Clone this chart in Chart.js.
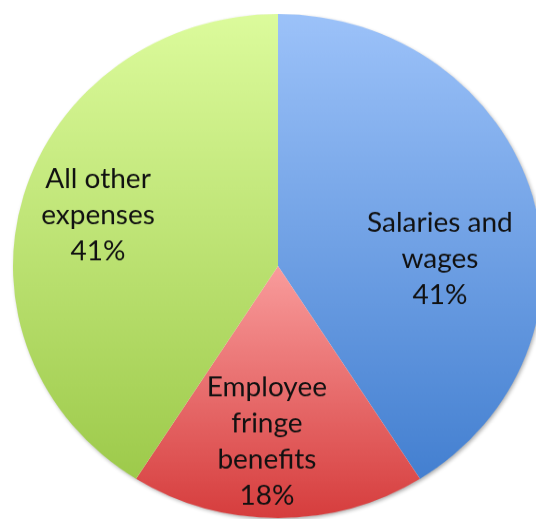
<!DOCTYPE html>
<html>
<head>
<meta charset="utf-8">
<script src="https://cdn.jsdelivr.net/npm/chart.js@4"></script>
<style>
  html, body { margin: 0; padding: 0; background: #fff; overflow: hidden; }
  #wrap { width: 536px; height: 519px; position: relative; overflow: hidden; }
  #pie { position: absolute; left: 0; top: 0; transform-origin: 0 0; transform: translateY(14px) scaleY(0.951); }
</style>
</head>
<body>
<div id="wrap"><canvas id="pie" width="560" height="560"></canvas></div>
<script>
var categories = ["Salaries and wages", "Employee fringe benefits", "All other expenses"];
var labelLines = [["Salaries and", "wages"], ["Employee", "fringe", "benefits"], ["All other", "expenses"]];
var shares = [41, 18, 41];

// gradient stops per slice: [top colour, bottom colour, start at centre?]
var sliceColors = [
    ["#9cc2f9", "#3c7acd", false],
    ["#f99c9c", "#d63d3d", true],
    ["#dcfb9c", "#98c644", false]
];
// label centre as fraction of radius from pie centre
var labelPos = [[0.611, -0.028], [-0.042, 0.698], [-0.679, -0.202]];

function sliceFill(ctx) {
    var chart = ctx.chart, area = chart.chartArea;
    if (!area) return sliceColors[ctx.dataIndex][0];
    var c = sliceColors[ctx.dataIndex];
    var midY = (area.top + area.bottom) / 2;
    var g = chart.ctx.createLinearGradient(0, c[2] ? midY : area.top, 0, area.bottom);
    g.addColorStop(0, c[0]);
    g.addColorStop(1, c[1]);
    return g;
}

var pieShadow = {
    id: 'pieShadow',
    beforeDatasetsDraw: function (chart) {
        var arc = chart.getDatasetMeta(0).data[0];
        if (!arc) return;
        var ctx = chart.ctx;
        ctx.save();
        ctx.shadowColor = 'rgba(0,0,0,0.35)';
        ctx.shadowBlur = 4;
        ctx.shadowOffsetX = 1.5;
        ctx.shadowOffsetY = 2;
        ctx.fillStyle = '#fff';
        ctx.beginPath();
        ctx.arc(arc.x, arc.y, arc.outerRadius - 0.5, 0, Math.PI * 2);
        ctx.fill();
        ctx.restore();
    }
};

var sliceLabels = {
    id: 'sliceLabels',
    afterDatasetsDraw: function (chart) {
        var ctx = chart.ctx;
        var meta = chart.getDatasetMeta(0);
        ctx.save();
        ctx.font = '28px Lato, "Open Sans", sans-serif';
        ctx.fillStyle = '#111';
        ctx.textAlign = 'center';
        ctx.textBaseline = 'middle';
        meta.data.forEach(function (arc, i) {
            var lines = labelLines[i].concat([shares[i] + '%']);
            var lh = 38;
            var cx = arc.x + labelPos[i][0] * arc.outerRadius;
            var cy = arc.y + labelPos[i][1] * arc.outerRadius;
            var y0 = cy - lh * (lines.length - 1) / 2;
            lines.forEach(function (t, k) {
                ctx.fillText(t, cx, y0 + k * lh);
            });
        });
        ctx.restore();
    }
};

new Chart(document.getElementById("pie"), {
    type: 'pie',
    data: {
        labels: categories,
        datasets: [{
            data: shares,
            backgroundColor: sliceFill,
            borderWidth: 0
        }]
    },
    options: {
        responsive: false,
        animation: false,
        layout: { padding: { left: 13, right: 17, top: 0, bottom: 30 } },
        plugins: {
            legend: { display: false },
            tooltip: { enabled: false }
        }
    },
    plugins: [pieShadow, sliceLabels]
});
</script>
</body>
</html>
